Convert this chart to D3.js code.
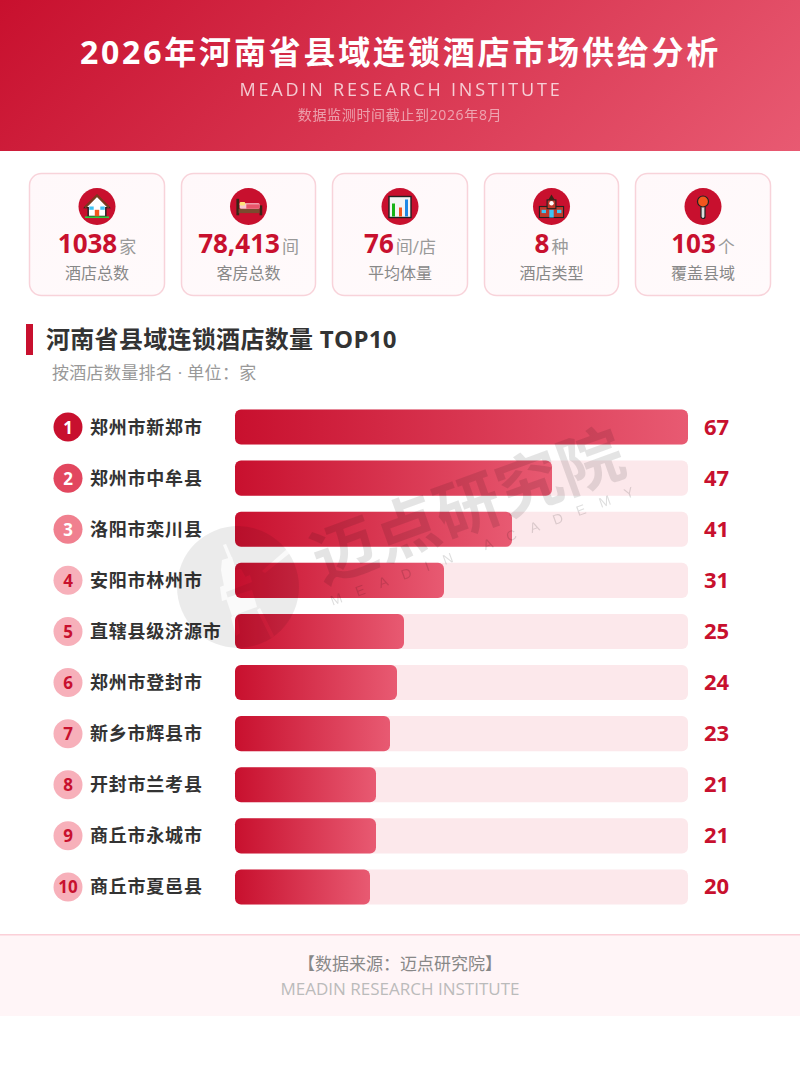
<!DOCTYPE html>
<html><head><meta charset="utf-8">
<script src="https://cdn.jsdelivr.net/npm/d3@7"></script>
<style>html,body{margin:0;padding:0;background:#fff}svg{display:block}
text{font-family:"Open Sans","Noto Sans CJK SC",sans-serif}</style></head>
<body><svg id="c" width="800" height="1066" viewBox="0 0 800 1066"></svg>
<script>
const categories=["郑州市新郑市","郑州市中牟县","洛阳市栾川县","安阳市林州市","直辖县级济源市","郑州市登封市","新乡市辉县市","开封市兰考县","商丘市永城市","商丘市夏邑县"];
const hotelCounts=[67,47,41,31,25,24,23,21,21,20];
const kpiValues=["1038","78,413","76","8","103"];
const kpiUnits=["家","间","间/店","种","个"];
const kpiLabels=["酒店总数","客房总数","平均体量","酒店类型","覆盖县域"];
const rankFill=["#c8102e","#e2475f","#f0808f","#f7b0ba","#f7b0ba","#f7b0ba","#f7b0ba","#f7b0ba","#f7b0ba","#f7b0ba"];
const rankText=["#fff","#fff","#fff","#c8102e","#c8102e","#c8102e","#c8102e","#c8102e","#c8102e","#c8102e"];
const RED="#c8102e";

const svg=d3.select("#c");
const defs=svg.append("defs");
function grad(id,x2,y2,stops){const g=defs.append("linearGradient").attr("id",id).attr("x1",0).attr("y1",0).attr("x2",x2).attr("y2",y2);
 stops.forEach(([o,c])=>g.append("stop").attr("offset",o).attr("stop-color",c));}
grad("hdr",1,1,[[0,"#c8102e"],[1,"#e85a72"]]);
defs.select("#hdr").attr("gradientUnits","userSpaceOnUse").attr("x1",162).attr("y1",-162).attr("x2",638).attr("y2",313);
grad("bar",1,0,[[0,"#c8102e"],[1,"#e85a72"]]);
grad("card",1,1,[[0,"#fff8fa"],[1,"#fffafb"]]);

// header
svg.append("rect").attr("width",800).attr("height",151).attr("fill","url(#hdr)");
function t(x,y,s,size,fill,o={}){return svg.append("text").attr("x",x).attr("y",y).attr("text-anchor",o.a||"middle").attr("font-size",size).attr("fill",fill).attr("font-weight",o.w||400).attr("letter-spacing",o.ls||0).attr("opacity",o.op==null?1:o.op).text(s);}
t(400.5,64,"2026年河南省县域连锁酒店市场供给分析",32,"#fff",{w:700,ls:2.8});
t(401,96,"MEADIN RESEARCH INSTITUTE",18,"#fff",{ls:2.8,op:.75});
t(400,120,"数据监测时间截止到2026年8月",14,"#fff",{ls:.65,op:.52});

// KPI cards
const cardX=[29.5,181.5,332.5,484.5,635.5],cardW=[135,134,135,134,135];
const iconDraw=[
 g=>{g.attr("transform",g.attr("transform")+" scale(1.1)");
     g.append("path").attr("d","M-11 1L0-10 11 1 8 1V9H-8V1Z").attr("fill","#fff").attr("stroke","#222").attr("stroke-width",1.3);
     g.append("path").attr("d","M-11 1L0-10 11 1").attr("fill","none").attr("stroke","#7a3b1e").attr("stroke-width",2);
     g.append("rect").attr("x",-7).attr("y",0).attr("width",4).attr("height",3).attr("fill","#3fc4f4");
     g.append("rect").attr("x",3).attr("y",0).attr("width",4).attr("height",3).attr("fill","#3fc4f4");
     g.append("rect").attr("x",-2).attr("y",3).attr("width",4).attr("height",6).attr("fill","#f2561d");
     g.append("rect").attr("x",-11).attr("y",9).attr("width",22).attr("height",1.5).attr("fill","#2ecc40");},
 g=>{g.attr("transform",g.attr("transform")+" scale(1.1)");
     g.append("rect").attr("x",-11).attr("y",-7).attr("width",2.5).attr("height",15).attr("fill","#3a2416");
     g.append("rect").attr("x",10).attr("y",-1).attr("width",2.5).attr("height",9).attr("fill","#3a2416");
     g.append("rect").attr("x",-9).attr("y",2).attr("width",19).attr("height",4).attr("fill","#7a4a2e");
     g.append("rect").attr("x",-8).attr("y",-3).attr("width",18).attr("height",5).attr("rx",1).attr("fill","#f8c8d0");
     g.append("rect").attr("x",-2).attr("y",-2).attr("width",12).attr("height",4).attr("fill","#e8556a");
     g.append("rect").attr("x",-8).attr("y",-4).attr("width",5).attr("height",3).attr("rx",1).attr("fill","#ffe27a");},
 g=>{g.append("rect").attr("x",-11).attr("y",-10).attr("width",22).attr("height",21).attr("fill","#f4f4f4").attr("stroke","#222").attr("stroke-width",1.4);
     g.append("rect").attr("x",-8).attr("y",-3).attr("width",3).attr("height",13).attr("fill","#16b316");
     g.append("rect").attr("x",-1).attr("y",1).attr("width",3).attr("height",9).attr("fill","#f2561d");
     g.append("rect").attr("x",5).attr("y",-7).attr("width",3).attr("height",17).attr("fill","#1e88e5");},
 g=>{g.attr("transform",g.attr("transform")+" scale(1.1)");
     g.append("rect").attr("x",-11).attr("y",0).attr("width",22).attr("height",10).attr("fill","#c0392b").attr("stroke","#222").attr("stroke-width",1);
     g.append("rect").attr("x",-4).attr("y",-6).attr("width",8).attr("height",8).attr("fill","#c0392b").attr("stroke","#222").attr("stroke-width",1);
     g.append("path").attr("d","M-3-6L0-11 3-6Z").attr("fill","#3a2416");
     g.append("circle").attr("cy",-3).attr("r",2).attr("fill","#fff");
     g.append("rect").attr("x",-9).attr("y",3).attr("width",4).attr("height",3).attr("fill","#3fc4f4");
     g.append("rect").attr("x",5).attr("y",3).attr("width",4).attr("height",3).attr("fill","#3fc4f4");
     g.append("rect").attr("x",-2).attr("y",3).attr("width",4).attr("height",7).attr("fill","#3fc4f4");},
 g=>{g.append("rect").attr("x",-2).attr("y",-2).attr("width",4).attr("height",14).attr("rx",2).attr("fill","#ddd").attr("stroke","#222").attr("stroke-width",1.2);
     g.append("circle").attr("cy",-5).attr("r",5.5).attr("fill","#f2561d").attr("stroke","#222").attr("stroke-width",1.2);}
];
const cards=svg.selectAll("g.card").data(kpiValues).join("g").attr("class","card");
cards.append("rect").attr("x",(d,i)=>cardX[i]).attr("y",173.5).attr("width",(d,i)=>cardW[i]).attr("height",122).attr("rx",12).attr("fill","url(#card)").attr("stroke","#f8d3da").attr("stroke-width",1.5);
cards.append("circle").attr("cx",(d,i)=>cardX[i]+cardW[i]/2).attr("cy",206.5).attr("r",18.5).attr("fill",RED);
cards.each(function(d,i){const g=d3.select(this).append("g").attr("transform",`translate(${cardX[i]+cardW[i]/2},206.5)`);iconDraw[i](g);});
const kt=cards.append("text").attr("x",(d,i)=>cardX[i]+cardW[i]/2).attr("y",253).attr("text-anchor","middle");
kt.append("tspan").attr("font-size",26).attr("font-weight",700).attr("fill",RED).text(d=>d);
kt.append("tspan").attr("font-size",17).attr("fill","#999").attr("dx",2).text((d,i)=>kpiUnits[i]);
cards.append("text").attr("x",(d,i)=>cardX[i]+cardW[i]/2).attr("y",279).attr("text-anchor","middle").attr("font-size",16).attr("fill","#888").text((d,i)=>kpiLabels[i]);

// section title
svg.append("rect").attr("x",26).attr("y",324).attr("width",7).attr("height",31).attr("fill",RED);
t(46,348,"河南省县域连锁酒店数量 TOP10",24,"#333",{a:"start",w:700,ls:.3});
t(52,379,"按酒店数量排名 · 单位：家",17,"#999",{a:"start",ls:.3});

// bars
const x=d3.scaleLinear().domain([0,d3.max(hotelCounts)]).range([0,453]);
const y=d3.scaleBand().domain(categories).range([401.5,912.5]).paddingInner(16/51.1).paddingOuter(8/51.1);
const rows=svg.append("g").selectAll("g").data(categories).join("g").attr("transform",d=>`translate(0,${y(d)})`);
const bh=y.bandwidth();
rows.append("rect").attr("x",235).attr("width",453).attr("height",bh).attr("rx",6).attr("fill","#fce8eb");
rows.append("rect").attr("x",235).attr("width",(d,i)=>Math.floor(x(hotelCounts[i]))).attr("height",bh).attr("rx",6).attr("fill","url(#bar)");
rows.append("circle").attr("cx",68).attr("cy",bh/2).attr("r",14.5).attr("fill",(d,i)=>rankFill[i]);
rows.append("text").attr("x",68).attr("y",bh/2+6.5).attr("text-anchor","middle").attr("font-size",17).attr("font-weight",700).attr("fill",(d,i)=>rankText[i]).text((d,i)=>i+1);
rows.append("text").attr("x",90).attr("y",bh/2+6.5).attr("font-size",18).attr("letter-spacing",.78).attr("font-weight",700).attr("fill","#333").text(d=>d);
rows.append("text").attr("x",716.5).attr("y",bh/2+7.5).attr("text-anchor","middle").attr("font-size",22).attr("font-weight",700).attr("fill",RED).text((d,i)=>hotelCounts[i]);

// watermark
const mask=defs.append("mask").attr("id","wmMask").attr("maskUnits","userSpaceOnUse").attr("x",170).attr("y",520).attr("width",140).attr("height",135);
mask.append("rect").attr("x",170).attr("y",520).attr("width",140).attr("height",135).attr("fill","#fff");
["M223 545L226 544 232 558 229 560Z",
 "M222 560L232 557 236 570 241 569 246 578 224 586 221 570Z",
 "M220 587L250 575 252 582 226 592 228 599 222 601Z",
 "M226 598L252 590 257 607 232 616Z",
 "M231 617L237 614 240 633 236 636Z",
 "M262 571L287 549 290 553 265 573Z",
 "M257 610L260 608 274 636 271 638Z"].forEach(d=>mask.append("path").attr("d",d).attr("fill","#444"));
const wm=svg.append("g").attr("pointer-events","none");
wm.append("circle").attr("cx",238).attr("cy",587).attr("r",61).attr("fill","#000").attr("opacity",.075).attr("mask","url(#wmMask)");
const wr=wm.append("g").attr("transform","translate(476,528) rotate(-20)");
wr.append("text").attr("text-anchor","middle").attr("font-size",65).attr("font-weight",700).attr("letter-spacing",.5).attr("fill","#000").attr("opacity",.1).text("迈点研究院");
wr.append("text").attr("x",7).attr("y",24).attr("text-anchor","middle").attr("font-size",14).attr("letter-spacing",15).attr("fill","#000").attr("opacity",.13).style("font-family","'Liberation Sans'").text("MEADIN ACADEMY");

// footer
svg.append("rect").attr("y",935).attr("width",800).attr("height",81).attr("fill","#fff5f7");
svg.append("rect").attr("y",934).attr("width",800).attr("height",1.5).attr("fill","#fbd0d8");
t(400,970,"【数据来源：迈点研究院】",17,"#888");
t(400,995,"MEADIN RESEARCH INSTITUTE",17,"#bbb");
</script></body></html>
